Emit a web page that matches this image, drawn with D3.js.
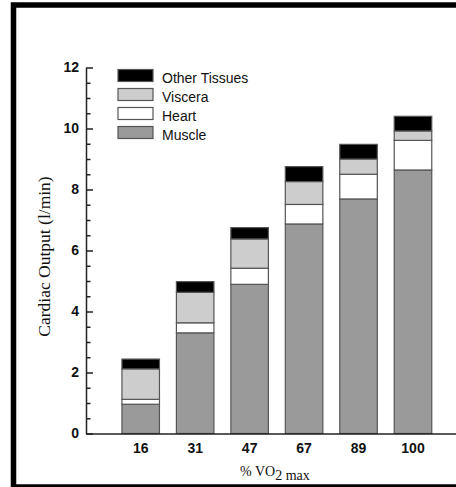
<!DOCTYPE html>
<html>
<head>
<meta charset="utf-8">
<script src="https://cdn.jsdelivr.net/npm/d3@7"></script>
<style>
  html, body { margin: 0; padding: 0; background: #fff; }
  svg { display: block; }
</style>
</head>
<body>
<svg id="chart" width="456" height="487"></svg>
<script>
// Exercise intensity categories (% of maximal oxygen uptake)
const categories = ["16", "31", "47", "67", "89", "100"];

// Cardiac output distribution (l/min), stacked bottom to top
const muscle  = [0.96, 3.30, 4.89, 6.87, 7.69, 8.64];
const heart   = [0.16, 0.33, 0.53, 0.64, 0.81, 0.97];
const viscera = [1.00, 1.00, 0.96, 0.75, 0.50, 0.31];
const other   = [0.32, 0.35, 0.37, 0.49, 0.48, 0.48];

const seriesKeys   = ["Muscle", "Heart", "Viscera", "Other Tissues"];
const seriesColors = ["#9a9a9a", "#ffffff", "#cdcdcd", "#000000"];
const legendOrder  = ["Other Tissues", "Viscera", "Heart", "Muscle"];

const yTicksMajor = [0, 2, 4, 6, 8, 10, 12];
const yTicksMinor = [0.5, 1, 1.5, 2.5, 3, 3.5, 4.5, 5, 5.5, 6.5, 7, 7.5,
                     8.5, 9, 9.5, 10.5, 11, 11.5];

const rows = categories.map((c, i) => ({
  cat: c,
  "Muscle": muscle[i],
  "Heart": heart[i],
  "Viscera": viscera[i],
  "Other Tissues": other[i]
}));

const svg = d3.select("#chart");

// outer frame
svg.append("rect")
  .attr("x", 13.5).attr("y", 5)
  .attr("width", 520).attr("height", 482)
  .attr("fill", "#fff")
  .attr("stroke", "#000").attr("stroke-width", 5.5);

const x = d3.scaleBand()
  .domain(categories)
  .range([86, 467.7])
  .paddingInner(0.311)
  .paddingOuter(0.66);

const y = d3.scaleLinear().domain([0, 12]).range([433.5, 67.5]);

const color = d3.scaleOrdinal().domain(seriesKeys).range(seriesColors);

const stacked = d3.stack().keys(seriesKeys)(rows);

// bars
svg.append("g")
  .selectAll("g")
  .data(stacked)
  .join("g")
  .attr("fill", d => color(d.key))
  .selectAll("rect")
  .data(d => d)
  .join("rect")
  .attr("x", d => x(d.data.cat))
  .attr("width", x.bandwidth())
  .attr("y", d => y(d[1]))
  .attr("height", d => y(d[0]) - y(d[1]))
  .attr("stroke", "#555")
  .attr("stroke-width", 1.2);

// y axis: major ticks with labels, pointing inward
const yAxis = svg.append("g")
  .attr("transform", "translate(86,0)")
  .call(d3.axisLeft(y)
    .tickValues(yTicksMajor)
    .tickFormat(d3.format("d"))
    .tickSizeInner(-7)
    .tickSizeOuter(0)
    .tickPadding(7));
yAxis.selectAll("text")
  .attr("font-family", "'Liberation Sans', Arial, sans-serif")
  .attr("font-weight", "bold")
  .attr("font-size", 14)
  .attr("fill", "#111");

// y axis minor ticks
svg.append("g")
  .attr("transform", "translate(86,0)")
  .call(d3.axisLeft(y)
    .tickValues(yTicksMinor)
    .tickFormat("")
    .tickSizeInner(-4.5)
    .tickSizeOuter(0))
  .call(g => g.select(".domain").remove());

// x axis
const xAxis = svg.append("g")
  .attr("transform", "translate(0,433.5)")
  .call(d3.axisBottom(x)
    .tickSize(0)
    .tickPadding(9.5));
xAxis.selectAll("text")
  .attr("font-family", "'Liberation Sans', Arial, sans-serif")
  .attr("font-weight", "bold")
  .attr("font-size", 14)
  .attr("fill", "#111");

svg.selectAll(".domain, .tick line")
  .attr("stroke", "#222")
  .attr("stroke-width", 1.5);

// axis titles
const serif = "'Liberation Serif', 'Times New Roman', serif";
svg.append("text")
  .attr("transform", "translate(50,256.5) rotate(-90)")
  .attr("text-anchor", "middle")
  .attr("font-family", serif)
  .attr("font-size", 17.5)
  .attr("fill", "#111")
  .text("Cardiac Output (l/min)");

const xt = svg.append("text")
  .attr("x", 240).attr("y", 476)
  .attr("font-family", serif)
  .attr("font-size", 14)
  .attr("fill", "#111");
xt.append("tspan").text("% VO");
xt.append("tspan").attr("dy", 4).text("2 max");

// legend
const legend = svg.append("g")
  .selectAll("g")
  .data(legendOrder)
  .join("g")
  .attr("transform", (d, i) => `translate(118,${83 + i * 19})`);
legend.append("rect")
  .attr("x", 0).attr("y", -13.5)
  .attr("width", 35).attr("height", 12)
  .attr("fill", d => color(d))
  .attr("stroke", "#555")
  .attr("stroke-width", 1.2);
legend.append("text")
  .attr("x", 44).attr("y", 0)
  .attr("font-family", "'Liberation Sans', Arial, sans-serif")
  .attr("font-size", 14)
  .attr("fill", "#111")
  .text(d => d);
</script>
</body>
</html>
